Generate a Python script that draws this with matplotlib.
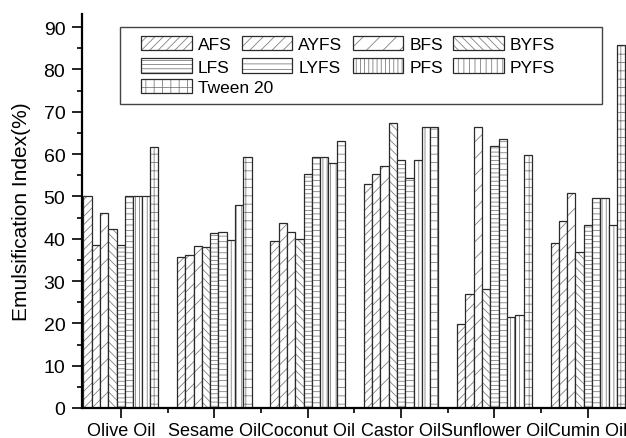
import matplotlib
matplotlib.use('Agg')
from matplotlib import pyplot as plt
from matplotlib.patches import Patch, Rectangle
import numpy as np

plt.rcParams['font.family'] = ['Liberation Sans', 'DejaVu Sans']
plt.rcParams['hatch.linewidth'] = 0.6

# Data
oils = ['Olive Oil', 'Sesame Oil', 'Coconut Oil', 'Castor Oil',
        'Sunflower Oil', 'Cumin Oil']
series = ['AFS', 'AYFS', 'BFS', 'BYFS', 'LFS', 'LYFS', 'PFS', 'PYFS',
          'Tween 20']
afs = [50.0, 35.6, 39.5, 52.9, 19.8, 39.0]
ayfs = [38.4, 36.2, 43.8, 55.3, 27.0, 44.2]
bfs = [46.1, 38.2, 41.7, 57.3, 66.5, 50.9]
byfs = [42.4, 38.1, 39.9, 67.3, 28.1, 36.9]
lfs = [38.4, 41.3, 55.3, 58.5, 62.0, 43.2]
lyfs = [50.0, 41.7, 59.4, 54.3, 63.5, 49.7]
pfs = [50.0, 39.6, 59.4, 58.5, 21.6, 49.7]
pyfs = [50.0, 48.0, 58.0, 66.3, 22.0, 43.2]
tween = [61.6, 59.2, 63.0, 66.3, 59.7, 85.8]
values = [afs, ayfs, bfs, byfs, lfs, lyfs, pfs, pyfs, tween]

hatches = ['////', '///', '//', '\\\\\\\\', '----', '---', '||||', '|||', '++']
hatch_col = '#808080'
edge_col = '#2a2a2a'

fig = plt.figure(figsize=(6.26, 4.39), dpi=100)
ax = fig.add_axes([82/626, 30/439, 544/626, 394/439])

idx = np.arange(len(oils))
w = 0.8 / len(series)
handles = []
for j, (name, vals, h) in enumerate(zip(series, values, hatches)):
    x = idx + (j - 4) * w
    ax.bar(x, vals, w, color='white', edgecolor=hatch_col, hatch=h,
           linewidth=0)
    ax.bar(x, vals, w, fill=False, edgecolor=edge_col, linewidth=0.9)
    handles.append((Patch(facecolor='white', edgecolor=hatch_col, hatch=h,
                          linewidth=0),
                    Patch(fill=False, edgecolor=edge_col, linewidth=0.9)))

ax.set_xlim(-0.416, 5.408)
ax.set_ylim(0, 93.1)
ax.set_xticks(idx)
ax.set_xticklabels(oils, fontsize=13)
ax.set_xticks(idx[:-1] + 0.5, minor=True)
ax.set_yticks(np.arange(0, 91, 10))
ax.set_yticks(np.arange(5, 91, 10), minor=True)
ax.tick_params(which='major', direction='out', length=7, width=1.2, pad=3)
ax.tick_params(which='minor', direction='out', length=3.5, width=1.2)
ax.tick_params(axis='y', labelsize=14, pad=5)
ax.spines['top'].set_visible(False)
ax.spines['right'].set_visible(False)
ax.spines['left'].set_linewidth(1.6)
ax.spines['bottom'].set_linewidth(1.6)
ax.set_ylabel('Emulsification Index(%)', fontsize=15, labelpad=9)

# legend: two rows of four, then Tween 20 on its own row
order = [0, 4, 1, 5, 2, 6, 3, 7]
leg_kw = dict(loc='upper left', frameon=False, fontsize=12.5,
              handlelength=2.9, handleheight=0.9, handletextpad=0.35,
              borderpad=0, borderaxespad=0)
leg1 = ax.legend([handles[k] for k in order], [series[k] for k in order],
                 ncol=4, bbox_to_anchor=(0.109, 0.944), columnspacing=0.6,
                 labelspacing=0.35, **leg_kw)
ax.add_artist(leg1)
ax.legend([handles[8]], [series[8]], bbox_to_anchor=(0.109, 0.835),
          **leg_kw)
ax.add_patch(Rectangle((0.07, 0.772), 0.886, 0.195, transform=ax.transAxes,
                       fill=False, edgecolor='#444444', linewidth=1.0,
                       clip_on=False))

fig.savefig('out.png', dpi=100)
